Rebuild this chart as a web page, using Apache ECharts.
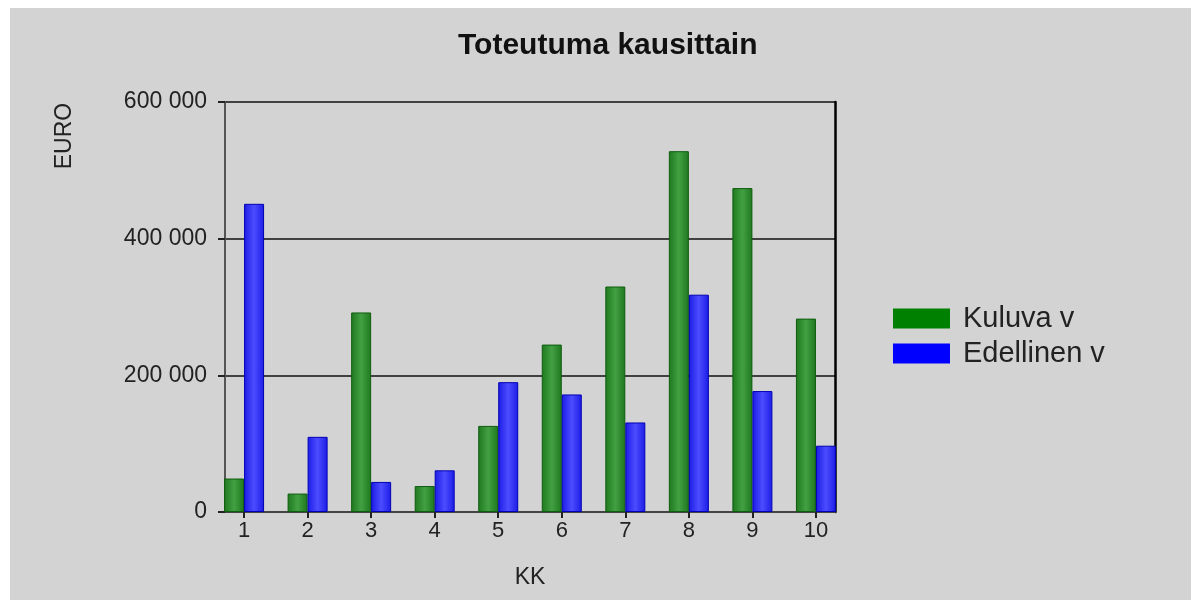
<!DOCTYPE html>
<html>
<head>
<meta charset="utf-8">
<script src="https://cdn.jsdelivr.net/npm/echarts@6/dist/echarts.min.js"></script>
<style>
  html, body { margin: 0; padding: 0; background: #fff; }
  #chart { position: absolute; left: 10px; top: 8px; width: 1181px; height: 592px; }
</style>
</head>
<body>
<div id="chart"></div>
<script>
  // kausi (KK) ja toteumat euroina
  var periods = [1, 2, 3, 4, 5, 6, 7, 8, 9, 10];
  var kuluva = [49000, 27000, 292000, 38000, 126000, 245000, 330000, 528000, 474000, 283000];
  var edellinen = [451000, 110000, 44000, 61000, 190000, 172000, 131000, 318000, 177000, 97000];
  var yTicks = [0, 200000, 400000, 600000];

  var txt = '#222';
  var font = '"Liberation Sans", Arial, sans-serif';

  function fmt(v) {
    return String(v).replace(/\B(?=(\d{3})+(?!\d))/g, ' ');
  }
  function grad(edge, mid) {
    return new echarts.graphic.LinearGradient(0, 0, 1, 0, [
      { offset: 0, color: edge },
      { offset: 0.5, color: mid },
      { offset: 1, color: edge }
    ]);
  }

  var myChart = echarts.init(document.getElementById('chart'));
  var option = {
    backgroundColor: '#d3d3d3',
    animation: false,
    textStyle: { fontFamily: font },
    title: {
      text: 'Toteutuma kausittain',
      left: 443,
      top: 18,
      textStyle: { fontSize: 30, fontWeight: 'bold', color: '#111', fontFamily: font }
    },
    legend: {
      orient: 'vertical',
      left: 878,
      top: 291,
      itemWidth: 57,
      itemHeight: 20,
      itemGap: 6,
      icon: 'rect',
      textStyle: { fontSize: 29, color: txt, padding: [0, 0, 0, 8], fontFamily: font },
      data: [
        { name: 'Kuluva v', itemStyle: { color: '#008000', borderWidth: 0 } },
        { name: 'Edellinen v', itemStyle: { color: '#0000ff', borderWidth: 0 } }
      ]
    },
    graphic: [{
      type: 'text',
      x: 55,
      y: 128,
      rotation: Math.PI / 2,
      style: {
        text: 'EURO',
        fontSize: 23,
        fontFamily: font,
        fill: txt,
        textAlign: 'center',
        textVerticalAlign: 'middle'
      }
    }],
    grid: { left: 215, top: 94, width: 610, height: 410 },
    xAxis: {
      type: 'value',
      min: 0.7,
      max: 10.3,
      name: 'KK',
      nameLocation: 'middle',
      nameGap: 54,
      nameTextStyle: { fontSize: 23, color: txt },
      axisLine: { lineStyle: { color: '#444', width: 2 } },
      axisTick: { customValues: periods, length: 6, lineStyle: { color: '#222', width: 2 } },
      axisLabel: { customValues: periods, fontSize: 22, color: txt, margin: 8 },
      splitLine: { show: false }
    },
    yAxis: [{
      type: 'value',
      min: 0,
      max: 600000,
      interval: 200000,
      axisLine: { show: true, lineStyle: { color: '#555', width: 2 } },
      axisTick: { show: true, length: 7, lineStyle: { color: '#222', width: 2 } },
      axisLabel: { fontSize: 23, color: txt, margin: 18, formatter: function (v) { return fmt(v); } },
      splitLine: { lineStyle: { color: '#111', width: 1.5 } }
    }, {
      type: 'value',
      min: 0,
      max: 600000,
      position: 'right',
      axisLine: { show: true, lineStyle: { color: '#000', width: 2.5 } },
      axisTick: { show: false },
      axisLabel: { show: false },
      splitLine: { show: false }
    }],
    series: [{
      name: 'Kuluva v',
      type: 'bar',
      barWidth: 20,
      barGap: '0%',
      itemStyle: { color: grad('#1f781f', '#42a042'), borderColor: '#0e5c0e', borderWidth: 1 },
      data: periods.map(function (p, i) { return [p, kuluva[i]]; })
    }, {
      name: 'Edellinen v',
      type: 'bar',
      barWidth: 20,
      barGap: '0%',
      itemStyle: { color: grad('#1c1ce6', '#4c4cff'), borderColor: '#0000b4', borderWidth: 1 },
      data: periods.map(function (p, i) { return [p, edellinen[i]]; })
    }]
  };
  myChart.setOption(option);
</script>
</body>
</html>
